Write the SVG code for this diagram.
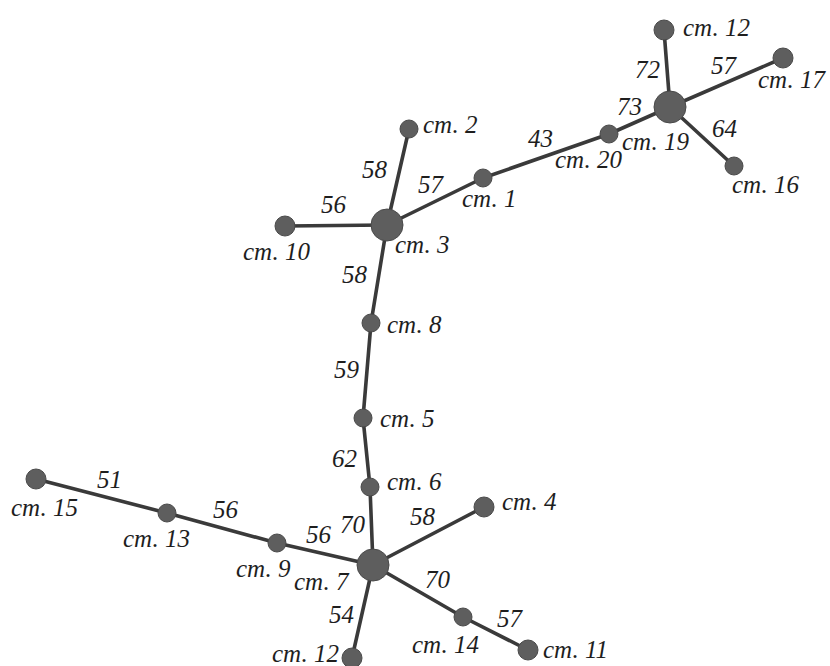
<svg xmlns="http://www.w3.org/2000/svg" width="830" height="666" viewBox="0 0 830 666">
<style>
.e{stroke:#3a3a3a;stroke-width:3.6;fill:none;stroke-linecap:round}
.n{fill:#5e5e5e;stroke:#4a4a4a;stroke-width:1}
.t{font-family:"Liberation Serif","Times New Roman",serif;font-style:italic;font-size:25px;fill:#1e1e1e}
.w{font-family:"Liberation Serif","Times New Roman",serif;font-style:italic;font-size:25px;fill:#1e1e1e}
</style>
<rect width="830" height="666" fill="#ffffff"/>
<g id="connectors">
<line class="e" x1="664" y1="30" x2="670" y2="107"/>
<line class="e" x1="783" y1="58" x2="670" y2="107"/>
<line class="e" x1="734" y1="166" x2="670" y2="107"/>
<line class="e" x1="609" y1="134" x2="670" y2="107"/>
<line class="e" x1="483" y1="178" x2="609" y2="134"/>
<line class="e" x1="387" y1="225" x2="483" y2="178"/>
<line class="e" x1="387" y1="225" x2="409" y2="129"/>
<line class="e" x1="387" y1="225" x2="285" y2="226"/>
<line class="e" x1="387" y1="225" x2="371" y2="323"/>
<line class="e" x1="371" y1="323" x2="363" y2="418"/>
<line class="e" x1="363" y1="418" x2="370" y2="487"/>
<line class="e" x1="370" y1="487" x2="373" y2="565"/>
<line class="e" x1="373" y1="565" x2="484" y2="507"/>
<line class="e" x1="373" y1="565" x2="277" y2="543"/>
<line class="e" x1="277" y1="543" x2="167" y2="513"/>
<line class="e" x1="167" y1="513" x2="36" y2="479"/>
<line class="e" x1="373" y1="565" x2="463" y2="617"/>
<line class="e" x1="463" y1="617" x2="528" y2="650"/>
<line class="e" x1="373" y1="565" x2="352" y2="658"/>
</g>
<g id="weights">
<text class="w" x="635" y="78">72</text>
<text class="w" x="711" y="74">57</text>
<text class="w" x="617" y="115">73</text>
<text class="w" x="712" y="137">64</text>
<text class="w" x="528" y="147">43</text>
<text class="w" x="362" y="178">58</text>
<text class="w" x="418" y="193">57</text>
<text class="w" x="321" y="213">56</text>
<text class="w" x="342" y="283">58</text>
<text class="w" x="334" y="378">59</text>
<text class="w" x="332" y="467">62</text>
<text class="w" x="410" y="525">58</text>
<text class="w" x="340" y="533">70</text>
<text class="w" x="306" y="543">56</text>
<text class="w" x="425" y="588">70</text>
<text class="w" x="329" y="623">54</text>
<text class="w" x="497" y="627">57</text>
<text class="w" x="97" y="488">51</text>
<text class="w" x="213" y="518">56</text>
</g>
<g id="st12a"><circle class="n" cx="664" cy="30" r="10"/><text class="t" x="683" y="36">ст. 12</text></g>
<g id="st17"><circle class="n" cx="783" cy="58" r="10"/><text class="t" x="758" y="88">ст. 17</text></g>
<g id="st19"><circle class="n" cx="670" cy="107" r="16"/><text class="t" x="622" y="150">ст. 19</text></g>
<g id="st20"><circle class="n" cx="609" cy="134" r="9"/><text class="t" x="555" y="168">ст. 20</text></g>
<g id="st16"><circle class="n" cx="734" cy="166" r="9"/><text class="t" x="732" y="193">ст. 16</text></g>
<g id="st1"><circle class="n" cx="483" cy="178" r="9"/><text class="t" x="462" y="207">ст. 1</text></g>
<g id="st2"><circle class="n" cx="409" cy="129" r="9"/><text class="t" x="423" y="133">ст. 2</text></g>
<g id="st3"><circle class="n" cx="387" cy="225" r="16"/><text class="t" x="395" y="253">ст. 3</text></g>
<g id="st10"><circle class="n" cx="285" cy="226" r="10"/><text class="t" x="243" y="260">ст. 10</text></g>
<g id="st8"><circle class="n" cx="371" cy="323" r="9"/><text class="t" x="387" y="333">ст. 8</text></g>
<g id="st5"><circle class="n" cx="363" cy="418" r="9"/><text class="t" x="380" y="427">ст. 5</text></g>
<g id="st6"><circle class="n" cx="370" cy="487" r="9"/><text class="t" x="387" y="490">ст. 6</text></g>
<g id="st4"><circle class="n" cx="484" cy="507" r="10"/><text class="t" x="502" y="510">ст. 4</text></g>
<g id="st7"><circle class="n" cx="373" cy="565" r="16"/><text class="t" x="294" y="590">ст. 7</text></g>
<g id="st9"><circle class="n" cx="277" cy="543" r="9"/><text class="t" x="236" y="577">ст. 9</text></g>
<g id="st13"><circle class="n" cx="167" cy="513" r="9"/><text class="t" x="123" y="547">ст. 13</text></g>
<g id="st15"><circle class="n" cx="36" cy="479" r="10"/><text class="t" x="11" y="516">ст. 15</text></g>
<g id="st14"><circle class="n" cx="463" cy="617" r="9"/><text class="t" x="412" y="653">ст. 14</text></g>
<g id="st11"><circle class="n" cx="528" cy="650" r="10"/><text class="t" x="543" y="658">ст. 11</text></g>
<g id="st12b"><circle class="n" cx="352" cy="658" r="10"/><text class="t" x="272" y="662">ст. 12</text></g>
</svg>
